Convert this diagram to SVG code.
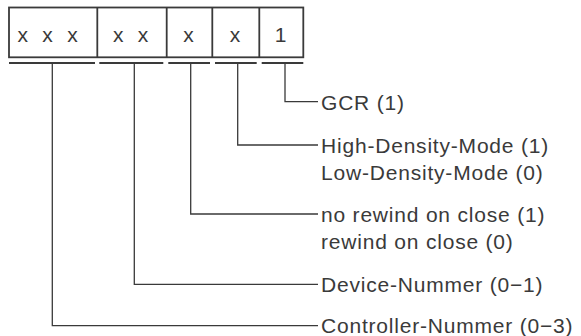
<svg xmlns="http://www.w3.org/2000/svg" width="581" height="336" viewBox="0 0 581 336">
<style>
text{font-family:"Liberation Sans",Arial,sans-serif;font-size:21px;fill:#3a3a3a;letter-spacing:0.8px}
.cell{fill:none;stroke:#3a3a3a;stroke-width:1.8}
.bar{stroke:#3a3a3a;stroke-width:2;fill:none}
.conn{fill:none;stroke:#3a3a3a;stroke-width:1.3}
.c{text-anchor:middle}
</style>
<rect width="581" height="336" fill="#ffffff"/>
<g id="register">
<rect class="cell" x="9" y="7.5" width="294.3" height="49.8"/>
<line class="cell" x1="97.3" y1="7.5" x2="97.3" y2="57.3"/>
<line class="cell" x1="166.7" y1="7.5" x2="166.7" y2="57.3"/>
<line class="cell" x1="212.3" y1="7.5" x2="212.3" y2="57.3"/>
<line class="cell" x1="259.3" y1="7.5" x2="259.3" y2="57.3"/>
<text class="c" x="48" y="41.7" word-spacing="7">x x x</text>
<text class="c" x="131" y="41.7" word-spacing="7">x x</text>
<text class="c" x="189" y="41.7">x</text>
<text class="c" x="235.5" y="41.7">x</text>
<text class="c" x="281" y="41.7">1</text>
</g>
<g id="brackets">
<line class="bar" x1="9" y1="63" x2="95" y2="63"/>
<line class="bar" x1="99.3" y1="63" x2="163.3" y2="63"/>
<line class="bar" x1="168.3" y1="63" x2="210" y2="63"/>
<line class="bar" x1="215" y1="63" x2="256.7" y2="63"/>
<line class="bar" x1="261.7" y1="63" x2="303.3" y2="63"/>
</g>
<g id="connectors">
<polyline class="conn" points="285,63 285,101.7 318,101.7"/>
<polyline class="conn" points="237.7,63 237.7,145 318,145"/>
<polyline class="conn" points="190.7,63 190.7,214 318,214"/>
<polyline class="conn" points="134.3,63 134.3,284.3 318,284.3"/>
<polyline class="conn" points="52.3,63 52.3,325.7 318,325.7"/>
</g>
<g id="gcr"><text x="321" y="109.5">GCR (1)</text></g>
<g id="density"><text x="321" y="152.7">High-Density-Mode (1)</text><text x="321" y="179.6">Low-Density-Mode (0)</text></g>
<g id="rewind"><text x="321" y="221.5">no rewind on close (1)</text><text x="321" y="248.5">rewind on close (0)</text></g>
<g id="device"><text x="321" y="291.7">Device-Nummer (0−1)</text></g>
<g id="controller"><text x="321" y="333.3">Controller-Nummer (0−3)</text></g>
</svg>
